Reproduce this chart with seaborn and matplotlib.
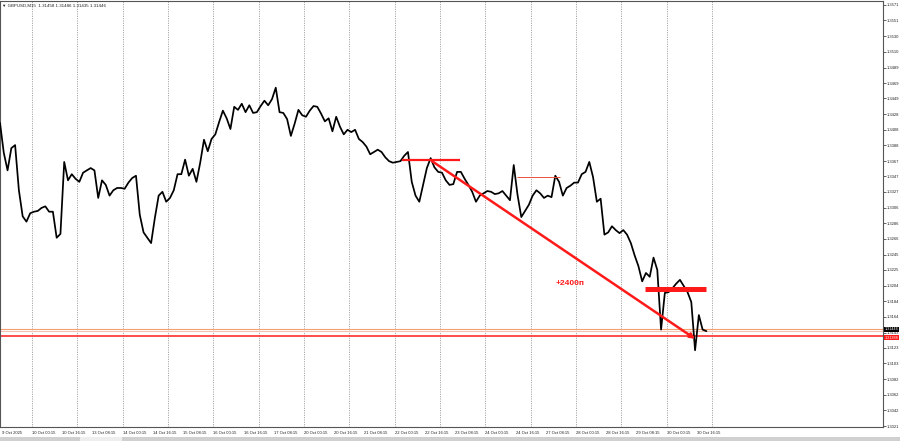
import numpy as np
import matplotlib
matplotlib.use("Agg")
import matplotlib.pyplot as plt
import seaborn as sns
from matplotlib.patches import Rectangle

# ---- data (GBPUSD M15 close, sampled every 8 bars) ----
close = [
    1.3417, 1.3378, 1.3355, 1.3384, 1.3388, 1.3329, 1.3295, 1.3288, 1.3299, 1.3301,
    1.3302, 1.3306, 1.3308, 1.3301, 1.3301, 1.3267, 1.3272, 1.3366, 1.3342, 1.3350,
    1.3344, 1.3340, 1.3352, 1.3355, 1.3358, 1.3355, 1.3319, 1.3342, 1.3336, 1.3322,
    1.3329, 1.3332, 1.3332, 1.3331, 1.3339, 1.3345, 1.3348, 1.3297, 1.3274, 1.3267,
    1.3260, 1.3293, 1.3322, 1.3327, 1.3314, 1.3319, 1.3329, 1.3350, 1.3350, 1.3369,
    1.3348, 1.3357, 1.3340, 1.3365, 1.3395, 1.3380, 1.3396, 1.3402, 1.3418, 1.3433,
    1.3423, 1.3409, 1.3438, 1.3434, 1.3442, 1.3431, 1.3440, 1.3430, 1.3431, 1.3439,
    1.3446, 1.3440, 1.3448, 1.3463, 1.3431, 1.3430, 1.3422, 1.3400, 1.3416, 1.3434,
    1.3427, 1.3425, 1.3433, 1.3439, 1.3438, 1.3429, 1.3419, 1.3423, 1.3406, 1.3425,
    1.3412, 1.3402, 1.3408, 1.3405, 1.3408, 1.3396, 1.3392, 1.3386, 1.3376, 1.3379,
    1.3382, 1.3379, 1.3372, 1.3367, 1.3365, 1.3366, 1.3367, 1.3374, 1.3379, 1.3340,
    1.3322, 1.3314, 1.3336, 1.3358, 1.3371, 1.3359, 1.3353, 1.3352, 1.3342, 1.3336,
    1.3337, 1.3353, 1.3353, 1.3344, 1.3336, 1.3327, 1.3314, 1.3322, 1.3325, 1.3328,
    1.3327, 1.3324, 1.3325, 1.3328, 1.3322, 1.3316, 1.3362, 1.3323, 1.3294, 1.3302,
    1.3310, 1.3322, 1.3329, 1.3325, 1.3319, 1.3322, 1.3320, 1.3348, 1.3340, 1.3322,
    1.3332, 1.3335, 1.3339, 1.3339, 1.3350, 1.3353, 1.3366, 1.3346, 1.3314, 1.3318,
    1.3271, 1.3274, 1.3282, 1.3277, 1.3273, 1.3277, 1.3271, 1.3260, 1.3244, 1.3230,
    1.3210, 1.3221, 1.3216, 1.3241, 1.3225, 1.3147, 1.3195, 1.3196, 1.3201, 1.3207,
    1.3212, 1.3204, 1.3196, 1.3183, 1.3120, 1.3166, 1.3147, 1.3145,
]
bars_per_sample = 8

time_labels = [
    "9 Oct 2025", "10 Oct 00:15", "10 Oct 16:15", "13 Oct 08:15", "14 Oct 00:15",
    "14 Oct 16:15", "15 Oct 08:15", "16 Oct 00:15", "16 Oct 16:15", "17 Oct 08:15",
    "20 Oct 00:15", "20 Oct 16:15", "21 Oct 08:15", "22 Oct 00:15", "22 Oct 16:15",
    "23 Oct 08:15", "24 Oct 00:15", "24 Oct 16:15", "27 Oct 08:15", "28 Oct 00:15",
    "28 Oct 16:15", "29 Oct 08:15", "30 Oct 00:15", "30 Oct 16:15",
]
price_ticks = [
    1.3571, 1.3551, 1.3530, 1.3510, 1.3489, 1.3469, 1.3449, 1.3428, 1.3408, 1.3388,
    1.3367, 1.3347, 1.3327, 1.3306, 1.3286, 1.3266, 1.3245, 1.3225, 1.3204, 1.3184,
    1.3164, 1.3143, 1.3123, 1.3103, 1.3082, 1.3062, 1.3042, 1.3021,
]
title_text = "GBPUSD,M15  1.31458 1.31486 1.31435 1.31446"

# drawn objects (bar index, price)
level_red = 1.3139
level_bid = 1.31446
level_ask = 1.3148
red_label = "1.31388"
bid_label = "1.31446"
seg_top = (851, 974, 1.3369)
seg_mid = (1095, 1186, 1.3346)
seg_low = (1366, 1495, 1.3200)
trend_start = (915, 1.3367)
trend_end = (1472, 1.3135)
note_pos = (1177, 1.3207)
note_text = "+2400п"

# ---- style ----
sns.set_style("white")
plt.rcParams["font.family"] = ["Liberation Sans", "DejaVu Sans"]

W, H = 900, 441
fig = plt.figure(figsize=(W / 100, H / 100), dpi=100)
ax = fig.add_axes([0.0, 14 / H, 883 / W, 426 / H])

bars = np.arange(len(close)) * bars_per_sample
sns.lineplot(x=bars, y=close, ax=ax, color="black", linewidth=1.25, zorder=3)

ax.set_xlim(0, 1870)
ax.set_ylim(1.30198, 1.35762)

# vertical dotted grid every 96 bars
for gx in np.arange(67.8, 1520, 96):
    ax.axvline(gx, color="#8a8a8a", linestyle=(0, (1.2, 1.6)), linewidth=0.6, zorder=1)

# x ticks
xt = 3.8 + 64 * np.arange(len(time_labels))
ax.set_xticks(xt)
ax.set_xticklabels(time_labels, fontsize=3.0, color="#222222", ha="left")
ax.tick_params(axis="x", direction="out", length=2, width=0.5, pad=1, colors="#222222")
for lab in ax.get_xticklabels():
    lab.set_horizontalalignment("left")

# y ticks on right
ax.yaxis.tick_right()
ax.set_yticks(price_ticks)
ax.set_yticklabels([f"{v:.4f}" for v in price_ticks], fontsize=3.0, color="#222222")
ax.tick_params(axis="y", direction="out", length=2, width=0.5, pad=1, colors="#222222")
ax.set_xlabel("")
ax.set_ylabel("")

for s in ax.spines.values():
    s.set_color("#555555")
    s.set_linewidth(0.8)

# horizontal levels
ax.axhline(level_ask, color="#f4a070", linewidth=0.8, zorder=2)
ax.axhline(level_bid, color="#f6c2b0", linewidth=0.8, zorder=2)
ax.axhline(level_red, color="#ff1a1a", linewidth=1.1, zorder=2)

# drawn segments
ax.plot([seg_top[0], seg_top[1]], [seg_top[2]] * 2, color="#ff1a1a", linewidth=1.6, zorder=4,
        solid_capstyle="butt")
ax.plot([seg_mid[0], seg_mid[1]], [seg_mid[2]] * 2, color="#e8503a", linewidth=0.7, zorder=4,
        solid_capstyle="butt")
ax.plot([seg_low[0], seg_low[1]], [seg_low[2]] * 2, color="#ff1a1a", linewidth=3.6, zorder=4,
        solid_capstyle="butt")
ax.annotate("", xy=trend_end, xytext=trend_start,
            arrowprops=dict(arrowstyle="-|>", color="#ff1a1a", lw=1.8,
                            mutation_scale=7, shrinkA=0, shrinkB=0), zorder=4)
ax.text(note_pos[0], note_pos[1], note_text, color="#ff1a1a", fontsize=6,
        fontweight="bold", ha="left", va="center", zorder=5)

# price labels on the right axis (stacked, not overlapping)
tr = ax.get_yaxis_transform()
ax.text(1.002, level_bid, bid_label, transform=tr, fontsize=2.7, color="white",
        ha="left", va="bottom", clip_on=False, zorder=10,
        bbox=dict(boxstyle="square,pad=0.1", fc="black", ec="none"))
ax.text(1.002, level_red, red_label, transform=tr, fontsize=2.7, color="white",
        ha="left", va="top", clip_on=False, zorder=10,
        bbox=dict(boxstyle="square,pad=0.1", fc="#ff1a1a", ec="none"))

# title
fig.text(2 / W, 1 - 6 / H, "▼ " + title_text, fontsize=3.2, color="#222222",
         ha="left", va="center")

# bottom tab strip
fig.patches.append(Rectangle((0, 0), 1, 4 / H, transform=fig.transFigure,
                             facecolor="#d0d0d0", edgecolor="none"))
fig.patches.append(Rectangle((80 / W, 0), 42 / W, 4 / H, transform=fig.transFigure,
                             facecolor="#eeeeee", edgecolor="none"))

fig.savefig("out.png", dpi=100)
